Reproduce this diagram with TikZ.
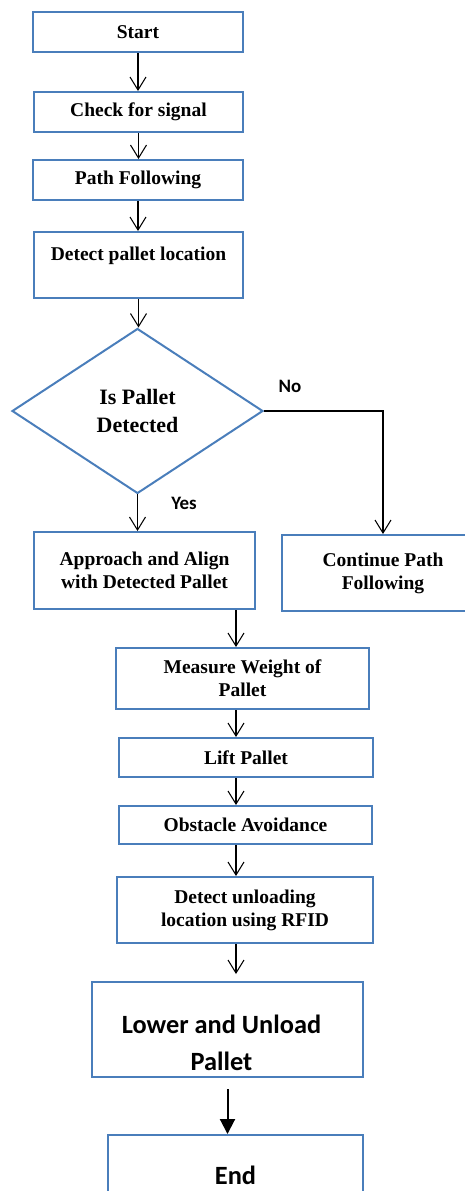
\documentclass[tikz,border=0pt]{standalone}
\usepackage{fontspec}
\setmainfont{Liberation Serif}
\newfontfamily\calfont{Carlito}
\usetikzlibrary{arrows.meta,shapes.geometric}
\definecolor{boxblue}{RGB}{74,126,187}

\begin{document}
\begin{tikzpicture}[x=0.02cm, y=-0.02cm, txt/.style={font=\bfseries\fontsize{11.1}{13.1}\selectfont, align=center}, box/.style={txt, draw=boxblue, line width=0.04cm, inner sep=2pt}, dec/.style={draw=boxblue, line width=0.04cm, diamond, inner sep=0pt, align=center, font=\bfseries\fontsize{12.5}{15.4}\selectfont}, big/.style={font=\calfont\bfseries\fontsize{15}{21}\selectfont, align=center}, yn/.style={font=\calfont\bfseries\fontsize{10.8}{13}\selectfont}, arr/.style={-{Straight Barb[length=2.6mm,width=3.2mm]}, line width=0.6pt}]
	\useasboundingbox (0,0) rectangle (465,1191);
	% main column
	\node[box, minimum width=4.2cm, minimum height=0.8cm] (start) at (138,32) {Start};
	\node[box, minimum width=4.18cm, minimum height=0.8cm] (check) at (138.5,112) {Check for signal};
	\node[box, minimum width=4.2cm, minimum height=0.8cm] (path) at (138,180) {Path Following};
	\node[box, minimum width=4.18cm, minimum height=1.32cm, label={[txt, yshift=0.18cm]center:Detect pallet location}] (locate) at (138.5,265) {};
	\node[dec, minimum width=5.02cm, minimum height=3.3cm] (isdet) at (137.5,411) {Is Pallet\\Detected};
	\node[box, minimum width=4.42cm, minimum height=1.54cm] (approach) at (144.5,570.5) {Approach and Align\\with Detected Pallet};
	\node[box, minimum width=4.04cm, minimum height=1.52cm] (cont) at (383,573) {Continue Path\\Following};
	\node[box, minimum width=5.06cm, minimum height=1.22cm] (measure) at (242.5,678.5) {Measure Weight of\\Pallet};
	\node[box, minimum width=5.08cm, minimum height=0.78cm] (lift) at (246,757.5) {Lift Pallet};
	\node[box, minimum width=5.06cm, minimum height=0.76cm] (obstacle) at (245.5,825) {Obstacle Avoidance};
	\node[box, minimum width=5.12cm, minimum height=1.32cm] (unload) at (245,910) {Detect unloading\\location using RFID};
	\node[draw=boxblue, line width=0.04cm, minimum width=5.42cm, minimum height=1.9cm, label={[big, xshift=-0.12cm, yshift=-0.27cm]center:Lower and Unload\\Pallet}] (lower) at (227.5,1029.5) {};
	\node[big, draw=boxblue, line width=0.04cm, minimum width=5.1cm, minimum height=1.6cm] (finish) at (235.5,1175) {End};
	\coordinate (axis) at (236,600);
	% branch labels
	\node[yn] (yes) at (184,503) {Yes};
	\node[yn] (no) at (290,386) {No};
	% connectors
	\foreach \a/\b in {start/check, check/path, path/locate, locate/isdet} {\draw[arr] (\a.south) -- (\a.south |- \b.north);}
	\draw[arr] (isdet.south) -- (isdet.south |- approach.north);
	\draw[arr] (isdet.east) -| (cont.north);
	\foreach \a/\b in {approach/measure, measure/lift, lift/obstacle, obstacle/unload} {\draw[arr] (\a.south -| axis) -- (\b.north -| axis);}
	\draw[arr, shorten >=0.14cm] (unload.south -| axis) -- (lower.north -| axis);
	\draw[-{Triangle[length=3mm,width=3mm]}, line width=0.04cm, shorten <=0.22cm] (lower.south) -- (lower.south |- finish.north);
\end{tikzpicture}
\end{document}
